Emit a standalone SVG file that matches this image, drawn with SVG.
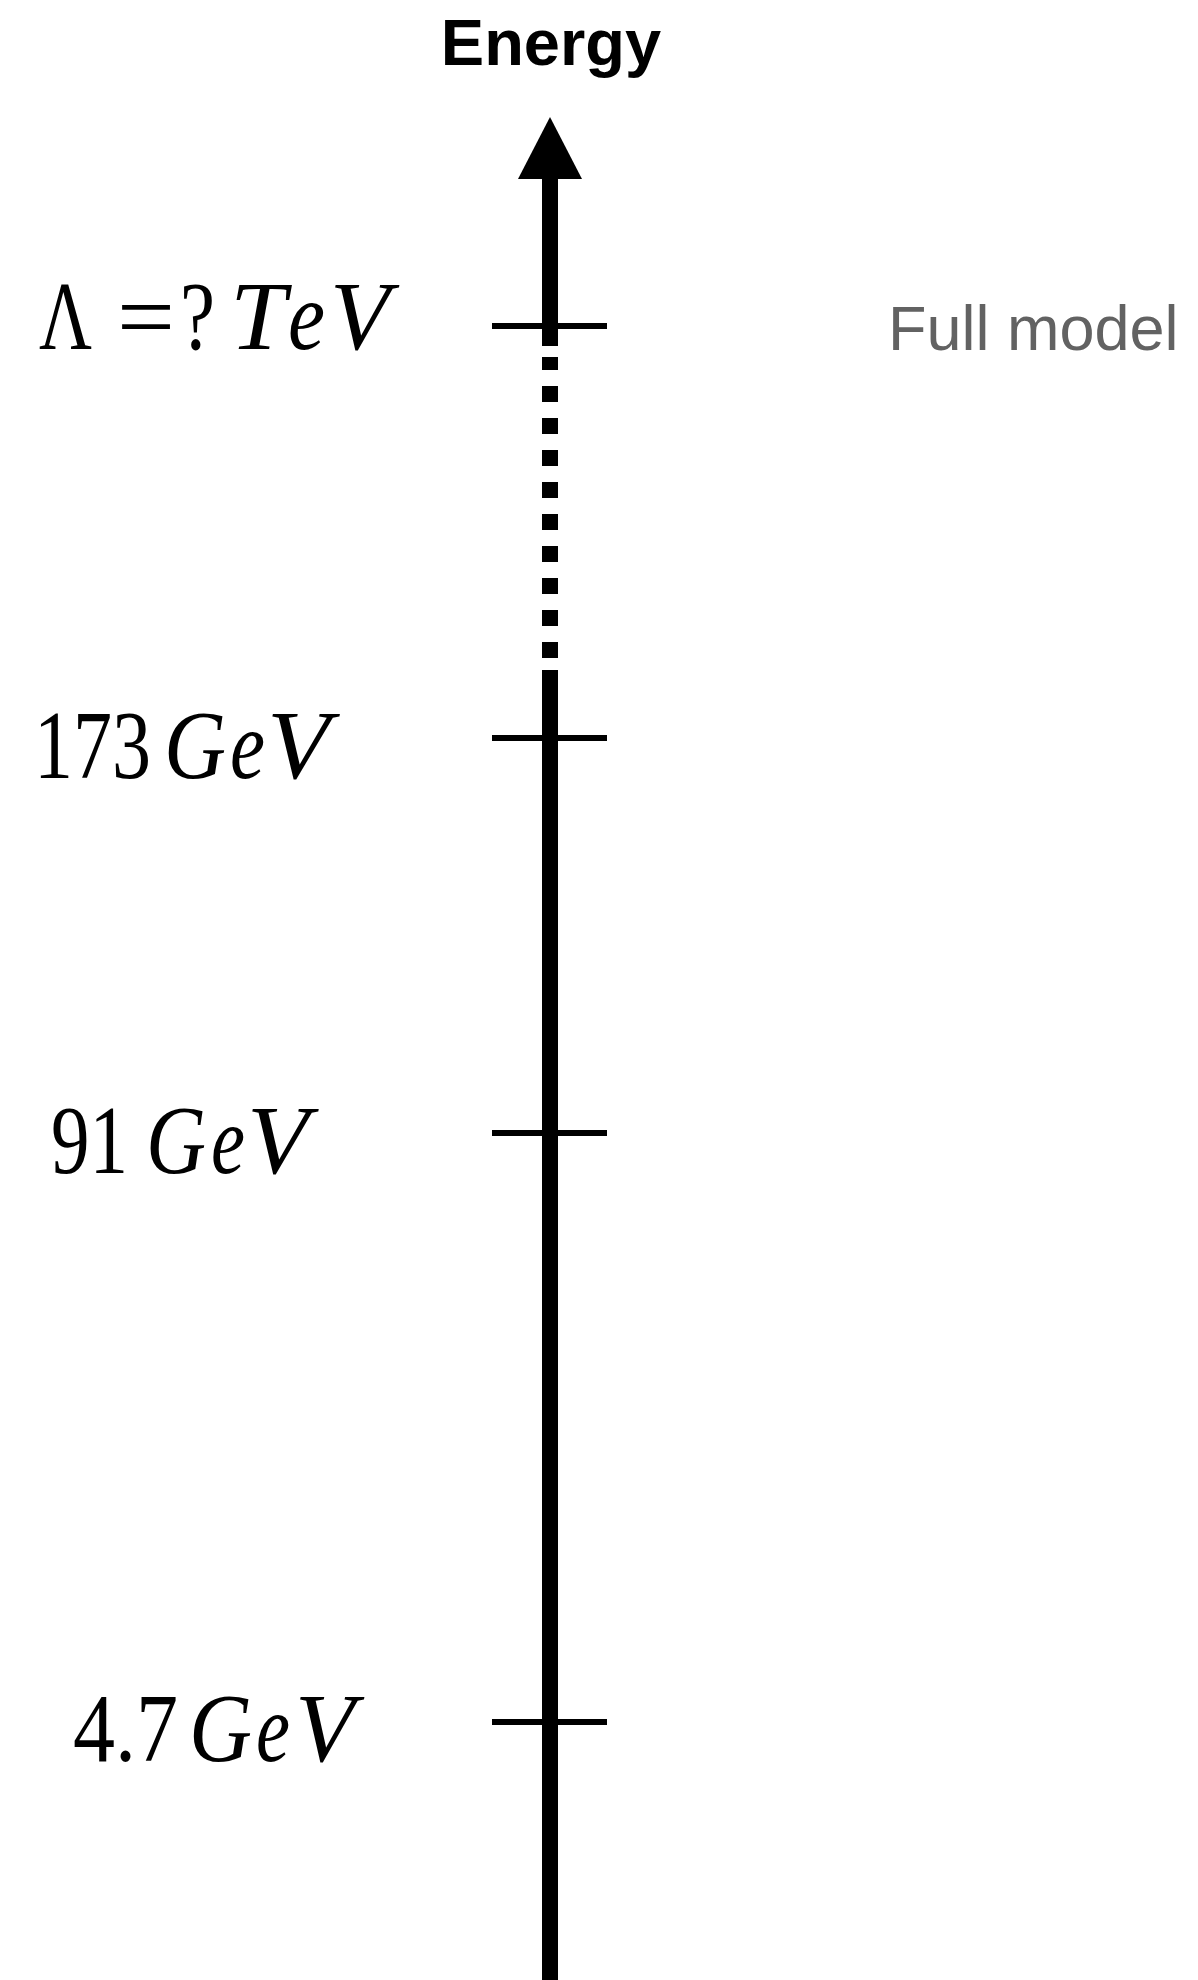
<svg xmlns="http://www.w3.org/2000/svg" width="1198" height="1980" viewBox="0 0 1198 1980">
<style>
.math{font-family:"Liberation Serif","DejaVu Serif",serif;font-size:80px;fill:#000}
.it{font-style:italic}
.tick{stroke:#000;stroke-width:6}
.axis{stroke:#000;stroke-width:16;fill:none}
</style>
<rect width="1198" height="1980" fill="#fff"/>
<g id="title">
<text x="551" y="65" text-anchor="middle" font-family="Liberation Sans, Arial, sans-serif" font-weight="bold" font-size="65" fill="#000">Energy</text>
</g>
<g id="connectors">
<polygon points="550,117 518,179 582,179" fill="#000"/>
<line class="axis" x1="550" y1="178" x2="550" y2="346"/>
<line class="axis" x1="550" y1="357" x2="550" y2="370"/>
<line class="axis" x1="550" y1="386" x2="550" y2="658" stroke-dasharray="16 16"/>
<line class="axis" x1="550" y1="670" x2="550" y2="1980"/>
</g>
<g id="tick-lambda">
<line class="tick" x1="492" y1="326" x2="607" y2="326"/>
<g transform="translate(0,349) scale(1,1.225)">
<text class="math" x="39" y="0" textLength="53" lengthAdjust="spacingAndGlyphs">Λ</text>
<text class="math" x="117" y="0" textLength="58" lengthAdjust="spacingAndGlyphs">=</text>
<text class="math" x="180" y="0" textLength="35" lengthAdjust="spacingAndGlyphs">?</text>
<text class="math it" x="230" y="0" textLength="56" lengthAdjust="spacingAndGlyphs">T</text>
<text class="math it" x="288" y="0" textLength="37" lengthAdjust="spacingAndGlyphs">e</text>
<text class="math it" x="330" y="0" textLength="60" lengthAdjust="spacingAndGlyphs">V</text>
</g>
</g>
<g id="tick-173">
<line class="tick" x1="492" y1="738" x2="607" y2="738"/>
<g transform="translate(0,778) scale(1,1.225)">
<text class="math" x="34" y="0" textLength="117" lengthAdjust="spacingAndGlyphs">173</text>
<text class="math it" x="164" y="0" textLength="62" lengthAdjust="spacingAndGlyphs">G</text>
<text class="math it" x="230" y="0" textLength="35" lengthAdjust="spacingAndGlyphs">e</text>
<text class="math it" x="267" y="0" textLength="63" lengthAdjust="spacingAndGlyphs">V</text>
</g>
</g>
<g id="tick-91">
<line class="tick" x1="492" y1="1133" x2="607" y2="1133"/>
<g transform="translate(0,1173) scale(1,1.225)">
<text class="math" x="51" y="0" textLength="77" lengthAdjust="spacingAndGlyphs">91</text>
<text class="math it" x="146" y="0" textLength="60" lengthAdjust="spacingAndGlyphs">G</text>
<text class="math it" x="211" y="0" textLength="34" lengthAdjust="spacingAndGlyphs">e</text>
<text class="math it" x="247" y="0" textLength="62" lengthAdjust="spacingAndGlyphs">V</text>
</g>
</g>
<g id="tick-4-7">
<line class="tick" x1="492" y1="1722" x2="607" y2="1722"/>
<g transform="translate(0,1761) scale(1,1.225)">
<text class="math" x="73" y="0" textLength="105" lengthAdjust="spacingAndGlyphs">4.7</text>
<text class="math it" x="189" y="0" textLength="63" lengthAdjust="spacingAndGlyphs">G</text>
<text class="math it" x="256" y="0" textLength="34" lengthAdjust="spacingAndGlyphs">e</text>
<text class="math it" x="295" y="0" textLength="60" lengthAdjust="spacingAndGlyphs">V</text>
</g>
</g>
<g id="full-model">
<text x="888" y="350" font-family="Liberation Sans, Arial, sans-serif" font-size="63" fill="#626262">Full model</text>
</g>
</svg>
